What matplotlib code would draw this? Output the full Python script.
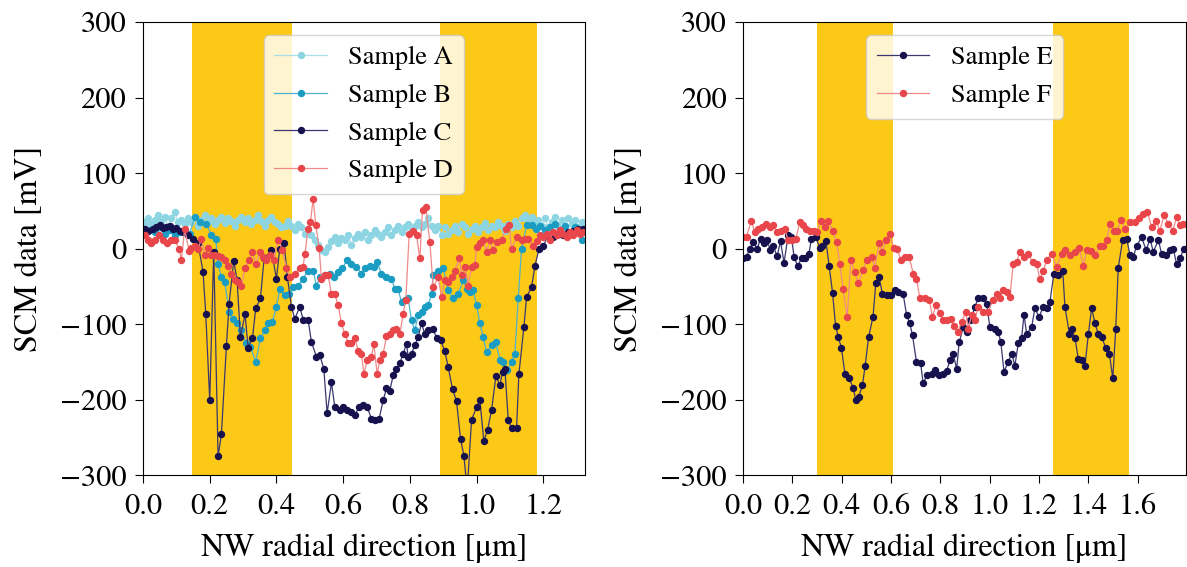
import numpy as np
import matplotlib
matplotlib.use('Agg')
from matplotlib import pyplot as plt

plt.rcParams['font.family'] = ['STIXGeneral', 'DejaVu Serif']
plt.rcParams['mathtext.fontset'] = 'stix'
plt.rcParams['font.size'] = 22
plt.rcParams['xtick.major.size'] = 6
plt.rcParams['ytick.major.size'] = 6
plt.rcParams['xtick.major.pad'] = 7
plt.rcParams['ytick.major.pad'] = 6

# ---- left panel data ----
# sample A is sampled on a regular 0.01 um grid
y_A = [35, 40, 33, 38, 45, 36, 42, 30, 40, 48, 35, 38, 32, 40, 35, 42, 30, 38, 44, 35,
       40, 32, 38, 42, 34, 40, 36, 30, 38, 42, 35, 40, 33, 38, 44, 36, 30, 38, 42, 35,
       32, 28, 30, 36, 30, 25, 32, 28, 20, 26, 18, 12, 5, -2, -5, 2, 10, 16, 8, 14,
       12, 18, 5, 14, 20, 15, 22, 12, 18, 25, 20, 15, 22, 28, 18, 25, 30, 22, 28, 32,
       25, 30, 35, 28, 33, 40, 30, 25, 30, 18, 28, 20, 25, 30, 22, 32, 28, 20, 26, 30,
       22, 28, 34, 25, 30, 28, 35, 30, 24, 32, 28, 36, 30, 40, 45, 38, 42, 35, 38, 30,
       40, 28, 35, 42, 30, 38, 25, 40, 32, 38, 28, 35, 30]
x_A = 0.005 + 0.01 * np.arange(len(y_A))

x_B = [0.005, 0.02, 0.035, 0.05, 0.065, 0.08, 0.095, 0.11, 0.125, 0.14, 0.155, 0.17, 0.19, 0.205,
       0.218, 0.225, 0.235, 0.245, 0.258, 0.27, 0.282, 0.295, 0.308, 0.322, 0.338, 0.352, 0.365,
       0.375, 0.388, 0.40, 0.41, 0.425, 0.438, 0.45, 0.465, 0.48, 0.495, 0.51, 0.52, 0.53, 0.545,
       0.56, 0.572, 0.585, 0.598, 0.612, 0.625, 0.64, 0.655, 0.665, 0.68, 0.692, 0.702, 0.715,
       0.73, 0.745, 0.755, 0.765, 0.775, 0.785, 0.795, 0.805, 0.815, 0.825, 0.835, 0.845, 0.855,
       0.865, 0.87, 0.885, 0.90, 0.915, 0.93, 0.945, 0.96, 0.97, 0.98, 0.99, 1.0, 1.01, 1.02,
       1.03, 1.045, 1.058, 1.07, 1.08, 1.092, 1.105, 1.115, 1.125, 1.135, 1.15, 1.165, 1.178,
       1.19, 1.205, 1.22, 1.235, 1.25, 1.265, 1.28, 1.295, 1.315]
y_B = [20, 25, 22, 28, 20, 25, 18, 22, 25, 20, 42, 35, 33, 18, 13, -20, -38, -44, -84, -93,
       -99, -108, -125, -130, -150, -119, -108, -98, -97, -77, -54, -62, -60, -51, -49, -40,
       -29, -29, -49, -38, -35, -33, -38, -31, -26, -15, -20, -24, -33, -26, -23, -24, -18,
       -33, -38, -40, -53, -54, -71, -68, -66, -95, -108, -88, -84, -77, -75, -60, -35, -29,
       -26, -55, -66, -60, -42, -53, -57, -55, -75, -99, -117, -137, -128, -124, -148, -150,
       -161, -150, -139, -66, 0, 31, 31, 26, 30, 25, 28, 32, 25, 30, 22, 28, 12]

x_C = [0.005, 0.015, 0.03, 0.04, 0.05, 0.06, 0.07, 0.08, 0.09, 0.10, 0.11, 0.12, 0.135, 0.15,
       0.165, 0.18, 0.188, 0.20, 0.212, 0.225, 0.235, 0.25, 0.258, 0.272, 0.282, 0.292, 0.306,
       0.315, 0.328, 0.338, 0.352, 0.363, 0.385, 0.40, 0.41, 0.423, 0.433, 0.445, 0.455, 0.47,
       0.48, 0.495, 0.505, 0.52, 0.53, 0.542, 0.552, 0.565, 0.575, 0.59, 0.60, 0.612, 0.625,
       0.635, 0.647, 0.66, 0.672, 0.685, 0.697, 0.708, 0.72, 0.73, 0.74, 0.75, 0.76, 0.77,
       0.78, 0.79, 0.795, 0.805, 0.815, 0.825, 0.835, 0.845, 0.855, 0.87, 0.88, 0.892, 0.905,
       0.915, 0.928, 0.94, 0.952, 0.962, 0.972, 0.985, 1.0, 1.01, 1.022, 1.033, 1.045, 1.058,
       1.07, 1.078, 1.085, 1.095, 1.105, 1.12, 1.127, 1.142, 1.15, 1.165, 1.175, 1.187, 1.2,
       1.215, 1.23, 1.245, 1.26, 1.275, 1.29, 1.305, 1.32]
y_C = [26, 24, 26, 28, 31, 27, 29, 30, 26, 27, 24, 22, 18, 13, 7, -31, -86, -201, -4, -275,
       -246, -129, -73, -16, -42, -117, -87, -131, -119, -79, -66, -13, -2, -40, 0, 7, -38,
       -77, -93, -77, -94, -94, -124, -143, -141, -159, -218, -177, -210, -214, -210, -214,
       -216, -221, -210, -207, -210, -225, -227, -225, -201, -185, -188, -168, -159, -152,
       -139, -126, -143, -139, -128, -117, -99, -113, -108, -106, -119, -121, -136, -157,
       -186, -202, -252, -274, -320, -227, -210, -201, -255, -240, -214, -169, -181, -163,
       -159, -227, -238, -238, -166, -104, -64, -51, -23, -1, 3, 18, 16, 19, 18, 22, 24, 26, 26]

x_D = [0.005, 0.015, 0.025, 0.035, 0.048, 0.06, 0.072, 0.085, 0.095, 0.108, 0.115, 0.125,
       0.138, 0.145, 0.155, 0.165, 0.175, 0.185, 0.195, 0.205, 0.215, 0.225, 0.235, 0.245,
       0.255, 0.265, 0.275, 0.285, 0.295, 0.305, 0.318, 0.328, 0.34, 0.35, 0.36, 0.37, 0.38,
       0.392, 0.405, 0.418, 0.43, 0.44, 0.455, 0.47, 0.48, 0.485, 0.495, 0.502, 0.51, 0.518,
       0.528, 0.535, 0.545, 0.555, 0.565, 0.575, 0.585, 0.595, 0.605, 0.615, 0.625, 0.635,
       0.645, 0.655, 0.662, 0.672, 0.685, 0.692, 0.702, 0.71, 0.72, 0.73, 0.74, 0.75, 0.76,
       0.77, 0.78, 0.788, 0.798, 0.81, 0.82, 0.83, 0.838, 0.848, 0.86, 0.87, 0.885, 0.895,
       0.905, 0.915, 0.925, 0.935, 0.948, 0.955, 0.965, 0.975, 0.985, 0.995, 1.0, 1.01, 1.02,
       1.03, 1.04, 1.05, 1.06, 1.075, 1.088, 1.098, 1.105, 1.12, 1.135, 1.145, 1.155, 1.17,
       1.18, 1.19, 1.20, 1.21, 1.22, 1.23, 1.24, 1.25, 1.26, 1.27, 1.28, 1.29, 1.30, 1.31, 1.32]
y_D = [18, 11, 7, 11, 18, 11, 8, 11, 11, 0, -15, 26, -3, 1, 4, -1, 13, -9, 1, -9, -9, -10,
       -11, -15, -23, -33, -41, -44, -50, -26, -15, -4, -21, -4, -11, -15, -9, -15, 12, -2,
       -26, -38, -33, -26, -24, -7, 26, 35, 66, 31, 1, -40, -35, -35, -60, -60, -75, -99,
       -113, -125, -125, -119, -135, -139, -166, -148, -143, -126, -166, -148, -139, -116,
       -113, -108, -106, -113, -86, -68, 20, 24, 18, -13, 51, 55, 9, -51, -38, -64, -42, -44,
       -38, -29, -13, -35, -24, -49, -24, -22, 2, 7, 11, -4, 11, -2, 9, 11, 26, 31, 0, 15,
       11, 13, 13, 4, 10, 18, 15, 20, 12, 22, 18, 25, 20, 15, 22, 18, 25, 20, 22]

# ---- right panel data ----
x_E = [0.0, 0.014, 0.027, 0.041, 0.057, 0.071, 0.084, 0.097, 0.111, 0.122, 0.138, 0.152,
       0.166, 0.183, 0.196, 0.207, 0.221, 0.237, 0.253, 0.267, 0.277, 0.295, 0.311, 0.322,
       0.336, 0.349, 0.363, 0.375, 0.386, 0.399, 0.413, 0.43, 0.446, 0.457, 0.469, 0.484,
       0.495, 0.509, 0.527, 0.538, 0.552, 0.565, 0.582, 0.598, 0.615, 0.629, 0.649, 0.663,
       0.676, 0.687, 0.703, 0.72, 0.73, 0.746, 0.764, 0.778, 0.795, 0.811, 0.825, 0.839,
       0.852, 0.866, 0.876, 0.893, 0.909, 0.922, 0.94, 0.953, 0.974, 0.987, 1.001, 1.021,
       1.035, 1.045, 1.058, 1.075, 1.089, 1.102, 1.116, 1.129, 1.139, 1.15, 1.17, 1.183,
       1.201, 1.215, 1.231, 1.244, 1.26, 1.278, 1.296, 1.305, 1.323, 1.332, 1.346, 1.359,
       1.373, 1.386, 1.40, 1.413, 1.427, 1.44, 1.454, 1.471, 1.485, 1.499, 1.511, 1.521,
       1.539, 1.555, 1.569, 1.582, 1.596, 1.616, 1.634, 1.65, 1.663, 1.684, 1.697, 1.715,
       1.731, 1.744, 1.758, 1.772, 1.786]
y_E = [-12, -11, 0, 9, 0, 13, 7, 11, -2, 4, -10, 10, -19, 18, 15, -11, -23, -13, -13, -7,
       13, 15, 1, 3, 10, -23, -59, -102, -117, -132, -166, -172, -184, -200, -196, -181,
       -155, -117, -90, -46, -38, -60, -62, -62, -55, -57, -60, -88, -99, -115, -150, -152,
       -178, -168, -166, -161, -168, -166, -162, -148, -140, -159, -124, -104, -110, -95,
       -77, -66, -66, -73, -104, -106, -110, -124, -163, -150, -139, -155, -125, -119, -88,
       -113, -104, -79, -91, -77, -79, -71, -33, -35, -29, -77, -113, -106, -119, -146,
       -148, -155, -113, -79, -99, -113, -117, -132, -139, -172, -106, -26, 12, 13, -9, -11,
       4, 15, -2, 13, -4, 11, -7, -9, -2, 0, -21, -13, 0]

x_F = [0.0, 0.014, 0.034, 0.047, 0.061, 0.075, 0.092, 0.108, 0.122, 0.138, 0.152, 0.169,
       0.183, 0.20, 0.214, 0.23, 0.243, 0.257, 0.271, 0.287, 0.30, 0.315, 0.331, 0.345,
       0.363, 0.379, 0.392, 0.406, 0.422, 0.437, 0.453, 0.467, 0.487, 0.503, 0.521, 0.534,
       0.552, 0.565, 0.579, 0.595, 0.611, 0.625, 0.639, 0.656, 0.673, 0.69, 0.703, 0.717,
       0.737, 0.755, 0.768, 0.782, 0.798, 0.811, 0.825, 0.841, 0.855, 0.872, 0.886, 0.903,
       0.913, 0.927, 0.94, 0.953, 0.974, 0.994, 1.012, 1.028, 1.041, 1.055, 1.069, 1.082,
       1.095, 1.109, 1.123, 1.139, 1.156, 1.174, 1.19, 1.203, 1.217, 1.231, 1.251, 1.271,
       1.292, 1.305, 1.325, 1.346, 1.363, 1.379, 1.393, 1.409, 1.427, 1.447, 1.46, 1.474,
       1.488, 1.504, 1.517, 1.531, 1.548, 1.569, 1.589, 1.607, 1.623, 1.639, 1.657, 1.674,
       1.69, 1.707, 1.724, 1.742, 1.758, 1.772, 1.785]
y_F = [15, 16, 37, 22, 26, 29, 32, 29, 31, 22, 24, 26, 11, 12, 13, 35, 31, 26, 23, 24, 22,
       37, 29, 37, 24, 9, -20, -54, -91, -15, -31, -46, -28, -15, -11, -25, 7, -4, 11, 19,
       1, 0, -15, -11, -11, -33, -40, -66, -66, -68, -90, -75, -85, -95, -94, -93, -103,
       -110, -97, -84, -106, -88, -95, -77, -84, -84, -68, -60, -65, -55, -57, -64, -20,
       -18, -4, -11, -7, -18, -20, -40, -30, -15, -7, -24, -7, -2, -9, -4, 1, -23, -2, -3,
       -9, 3, 4, 11, 33, 24, 24, 38, 26, 35, 35, 40, 46, 48, 29, 37, 24, 44, 33, 24, 42,
       31, 33]

# shaded regions [um]
bands_left = [(0.148, 0.447), (0.890, 1.180)]
bands_right = [(0.300, 0.606), (1.255, 1.565)]

band_color = '#fcc917'
# (marker colour, line colour)
col_A = ('#8dd5e3', '#a8e0ea')
col_B = ('#1b9cc2', '#4db3d0')
col_C = ('#17114d', '#3b3770')
col_D = ('#e8464a', '#f08a8a')

fig = plt.figure(figsize=(11.87, 5.67), dpi=100)
ax1 = fig.add_axes([0.1205, 0.162, 0.372, 0.799])
ax2 = fig.add_axes([0.626, 0.162, 0.373, 0.799])


def draw(ax, x, y, cols, label):
    ax.plot(x, y, '-o', color=cols[1], lw=0.9, ms=4.3,
            mfc=cols[0], mec=cols[0], label=label)


for a, b in bands_left:
    ax1.axvspan(a, b, color=band_color, lw=0, zorder=0)
draw(ax1, x_A, y_A, col_A, 'Sample A')
draw(ax1, x_B, y_B, col_B, 'Sample B')
draw(ax1, x_C, y_C, col_C, 'Sample C')
draw(ax1, x_D, y_D, col_D, 'Sample D')
ax1.set_xlim(0, 1.324)
ax1.set_xticks([0.0, 0.2, 0.4, 0.6, 0.8, 1.0, 1.2])

for a, b in bands_right:
    ax2.axvspan(a, b, color=band_color, lw=0, zorder=0)
draw(ax2, x_E, y_E, col_C, 'Sample E')
draw(ax2, x_F, y_F, col_D, 'Sample F')
ax2.set_xlim(0, 1.795)
ax2.set_xticks([0.0, 0.2, 0.4, 0.6, 0.8, 1.0, 1.2, 1.4, 1.6])

for ax in (ax1, ax2):
    ax.set_ylim(-300, 300)
    ax.set_yticks([-300, -200, -100, 0, 100, 200, 300])
    ax.set_xlabel('NW radial direction [μm]', fontsize=23, labelpad=9)
    ax.set_ylabel('SCM data [mV]', fontsize=23, labelpad=11)
    ax.xaxis.set_major_formatter(plt.FormatStrFormatter('%.1f'))
    ax.legend(loc='upper center', fontsize=19)

plt.savefig('out.png', dpi=100)
